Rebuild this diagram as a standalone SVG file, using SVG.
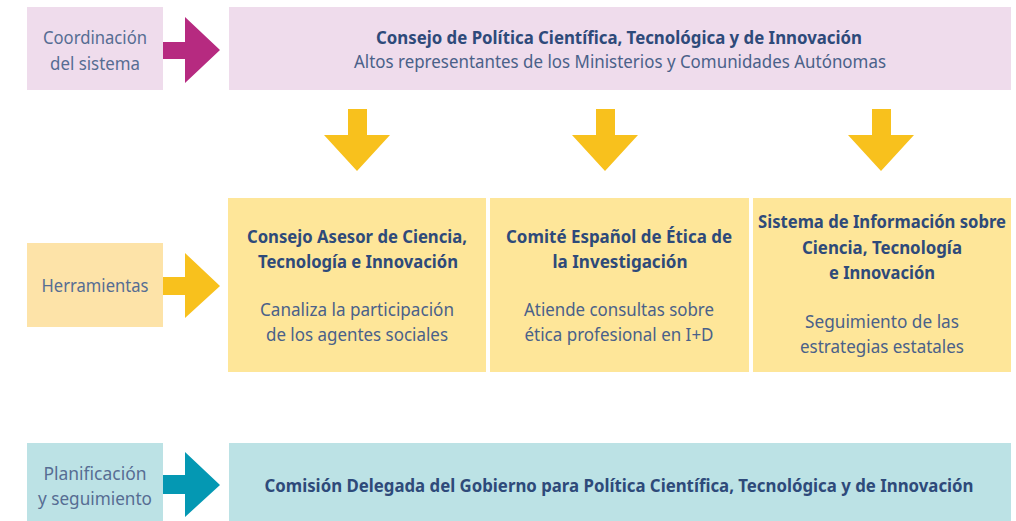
<svg xmlns="http://www.w3.org/2000/svg" width="1016" height="521" viewBox="0 0 1016 521">
<style>
text{font-family:"Noto Sans","Open Sans",sans-serif;text-anchor:middle;font-size:18.5px}
.b{font-weight:bold;fill:#2e4a7a}
.r{fill:#4a6189}
.l{fill:#566d93}
.pink{fill:#efdcec}
.yel{fill:#fee699}
.yl{fill:#fde3a8}
.teal{fill:#bce2e5}
</style>
<rect width="1016" height="521" fill="#ffffff"/>
<g id="connectors">
<polygon fill="#b62a80" points="163,42 185,42 185,17 220,50 185,83 185,59 163,59"/>
<polygon fill="#f8c11d" points="163,277 185,277 185,253 220,286 185,318 185,295 163,295"/>
<polygon fill="#0498b3" points="163,475 185,475 185,452 220,485 185,517 185,494 163,494"/>
<polygon fill="#f8c11d" points="348,109 367,109 367,135 390,135 357,171 324,135 348,135"/>
<polygon fill="#f8c11d" points="596,109 615,109 615,135 638,135 605,171 572,135 596,135"/>
<polygon fill="#f8c11d" points="872,109 891,109 891,135 914,135 881,171 848,135 872,135"/>
</g>
<g id="label-coordinacion">
<rect class="pink" x="27" y="7" width="136" height="83"/>
<text class="l" x="95" y="44" textLength="104" lengthAdjust="spacingAndGlyphs">Coordinación</text>
<text class="l" x="95" y="70" textLength="90" lengthAdjust="spacingAndGlyphs">del sistema</text>
</g>
<g id="consejo-politica">
<rect class="pink" x="229" y="7" width="782" height="83"/>
<text class="b" x="619" y="44" textLength="486" lengthAdjust="spacingAndGlyphs">Consejo de Política Científica, Tecnológica y de Innovación</text>
<text class="r" x="620" y="68" textLength="532" lengthAdjust="spacingAndGlyphs">Altos representantes de los Ministerios y Comunidades Autónomas</text>
</g>
<g id="label-herramientas">
<rect class="yl" x="27" y="243" width="136" height="84"/>
<text class="l" x="95" y="292" textLength="107" lengthAdjust="spacingAndGlyphs">Herramientas</text>
</g>
<g id="consejo-asesor">
<rect class="yel" x="228" y="198" width="258" height="174"/>
<text class="b" x="357" y="243" textLength="220" lengthAdjust="spacingAndGlyphs">Consejo Asesor de Ciencia,</text>
<text class="b" x="358" y="268" textLength="200" lengthAdjust="spacingAndGlyphs">Tecnología e Innovación</text>
<text class="r" x="357" y="316" textLength="194" lengthAdjust="spacingAndGlyphs">Canaliza la participación</text>
<text class="r" x="357" y="341" textLength="182" lengthAdjust="spacingAndGlyphs">de los agentes sociales</text>
</g>
<g id="comite-etica">
<rect class="yel" x="490" y="198" width="259" height="174"/>
<text class="b" x="619" y="243" textLength="226" lengthAdjust="spacingAndGlyphs">Comité Español de Ética de</text>
<text class="b" x="620" y="268" textLength="135" lengthAdjust="spacingAndGlyphs">la Investigación</text>
<text class="r" x="619" y="316" textLength="190" lengthAdjust="spacingAndGlyphs">Atiende consultas sobre</text>
<text class="r" x="619" y="341" textLength="189" lengthAdjust="spacingAndGlyphs">ética profesional en I+D</text>
</g>
<g id="sistema-informacion">
<rect class="yel" x="753" y="198" width="258" height="174"/>
<text class="b" x="882" y="228" textLength="248" lengthAdjust="spacingAndGlyphs">Sistema de Información sobre</text>
<text class="b" x="882" y="254" textLength="160" lengthAdjust="spacingAndGlyphs">Ciencia, Tecnología</text>
<text class="b" x="882" y="279" textLength="106" lengthAdjust="spacingAndGlyphs">e Innovación</text>
<text class="r" x="882" y="328" textLength="154" lengthAdjust="spacingAndGlyphs">Seguimiento de las</text>
<text class="r" x="882" y="353" textLength="164" lengthAdjust="spacingAndGlyphs">estrategias estatales</text>
</g>
<g id="label-planificacion">
<rect class="teal" x="27" y="443" width="136" height="78"/>
<text class="l" x="95" y="480" textLength="103" lengthAdjust="spacingAndGlyphs">Planificación</text>
<text class="l" x="95" y="505" textLength="114" lengthAdjust="spacingAndGlyphs">y seguimiento</text>
</g>
<g id="comision-delegada">
<rect class="teal" x="229" y="443" width="782" height="78"/>
<text class="b" x="619" y="492" textLength="709" lengthAdjust="spacingAndGlyphs">Comisión Delegada del Gobierno para Política Científica, Tecnológica y de Innovación</text>
</g>
</svg>
